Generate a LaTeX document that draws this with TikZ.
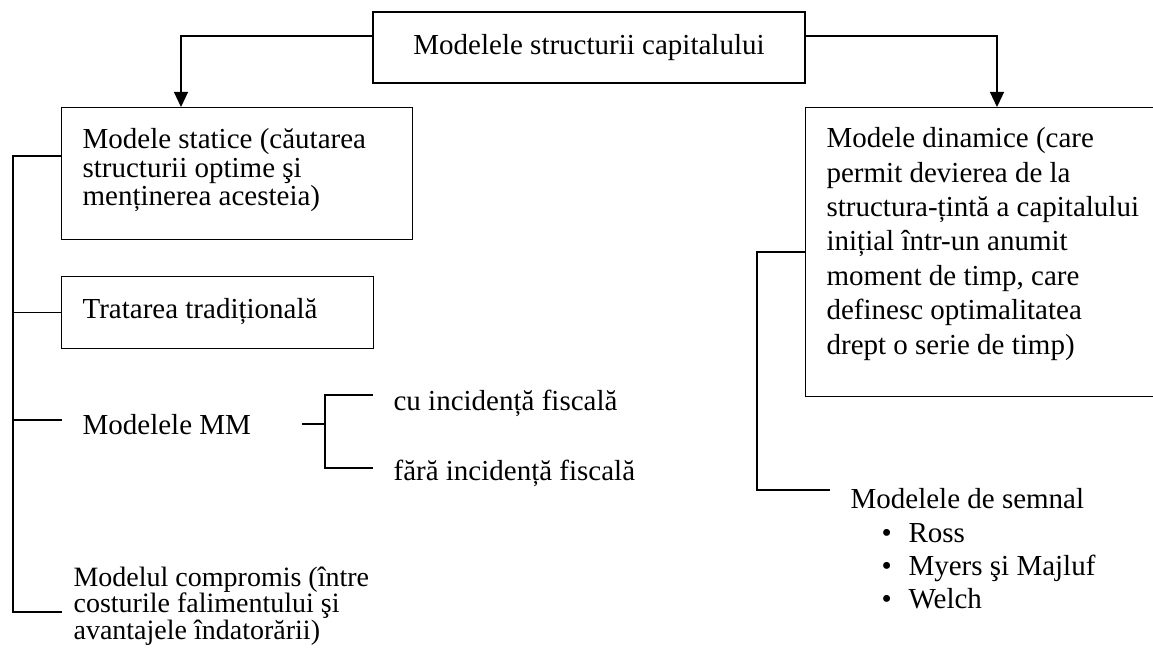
\documentclass[tikz,border=0pt]{standalone}
\usepackage{fontspec}
\setmainfont{Liberation Serif}
\usetikzlibrary{arrows.meta}
\begin{document}
\begin{tikzpicture}[x=1pt,y=-1pt,
  line width=1.2pt,
  box/.style={draw,line width=1.2pt,inner sep=0pt,anchor=north west},
  txt/.style={inner sep=0pt,anchor=north west,align=left,font=\fontsize{29}{34.4}\selectfont},
  arr/.style={-{Triangle[width=14pt,length=15pt]}}]
\useasboundingbox (0,0) rectangle (1153,650);
% top box
\node[draw,line width=1.2pt,inner sep=0pt,minimum width=432pt,minimum height=71pt,
  font=\fontsize{29}{34.4}\selectfont] (top) at (589,47.5) {Modelele structurii capitalului};
% static box
\node[box,minimum width=351pt,minimum height=132pt] (stat) at (61,107) {};
\node[txt,font=\fontsize{29}{28.5}\selectfont] (stattext) at (82,128)
  {Modele statice (căutarea\\structurii optime şi\\menținerea acesteia)};
% dynamic box
\node[box,minimum width=351pt,minimum height=289pt] (dyn) at (805,107) {};
\node[txt] (dyntext) at (826,127)
  {Modele dinamice (care\\permit devierea de la\\structura-țintă a capitalului\\inițial într-un anumit\\moment de timp, care\\definesc optimalitatea\\drept o serie de timp)};
% arrows
\draw[arr] ([yshift=11.5pt]top.west) -| ([xshift=120pt]stat.north west);
\draw[arr] ([yshift=11.5pt]top.east) -| ([xshift=192pt]dyn.north west);
% traditional box
\node[box,minimum width=312pt,minimum height=72pt] (trad) at (61,276) {};
\node[txt,anchor=west] (tradtext) at (82,312) {Tratarea tradițională};
% MM
\node[txt,anchor=west] (mm) at (82,425) {Modelele MM};
\node[txt,anchor=west] (cu) at (393,403) {cu incidență fiscală};
\node[txt,anchor=west] (fara) at (393,473) {fără incidență fiscală};
% compromis
\node[txt,anchor=west,font=\fontsize{28}{24}\selectfont] (comp) at (73,606)
  {Modelul compromis (între\\costurile falimentului şi\\avantajele îndatorării)};
% semnal
\node[txt,font=\fontsize{29}{33.3}\selectfont] (semn) at (850,488)
  {Modelele de semnal\\
   \hspace*{31pt}\makebox[27pt][l]{•}Ross\\
   \hspace*{31pt}\makebox[27pt][l]{•}Myers şi Majluf\\
   \hspace*{31pt}\makebox[27pt][l]{•}Welch};
% left spine
\coordinate (ls1) at (13,156);
\coordinate (ls4) at (13,612);
\coordinate (compend) at (62,612);
\coordinate (mmend) at (62,420);
\draw ([yshift=-49pt]stat.north west) -- (ls1) -- (ls4) -- (compend);
\draw (trad.west) -- (trad.west -| ls1);
\draw (mmend) -- (mmend -| ls1);
% MM bracket
\coordinate (mmstub) at (302,424);
\coordinate (brtop) at (325,395);
\coordinate (brbot) at (325,468);
\coordinate (cuend) at (373,395);
\coordinate (faraend) at (373,468);
\draw (mmstub) -- (mmstub -| brtop);
\draw (cuend) -- (brtop) -- (brbot) -- (faraend);
% right spine
\coordinate (rs1) at (757,252);
\coordinate (rs2) at (757,490);
\coordinate (semnend) at (830,490);
\draw ([yshift=-145pt]dyn.north west) -- (rs1) -- (rs2) -- (semnend);
\end{tikzpicture}
\end{document}
